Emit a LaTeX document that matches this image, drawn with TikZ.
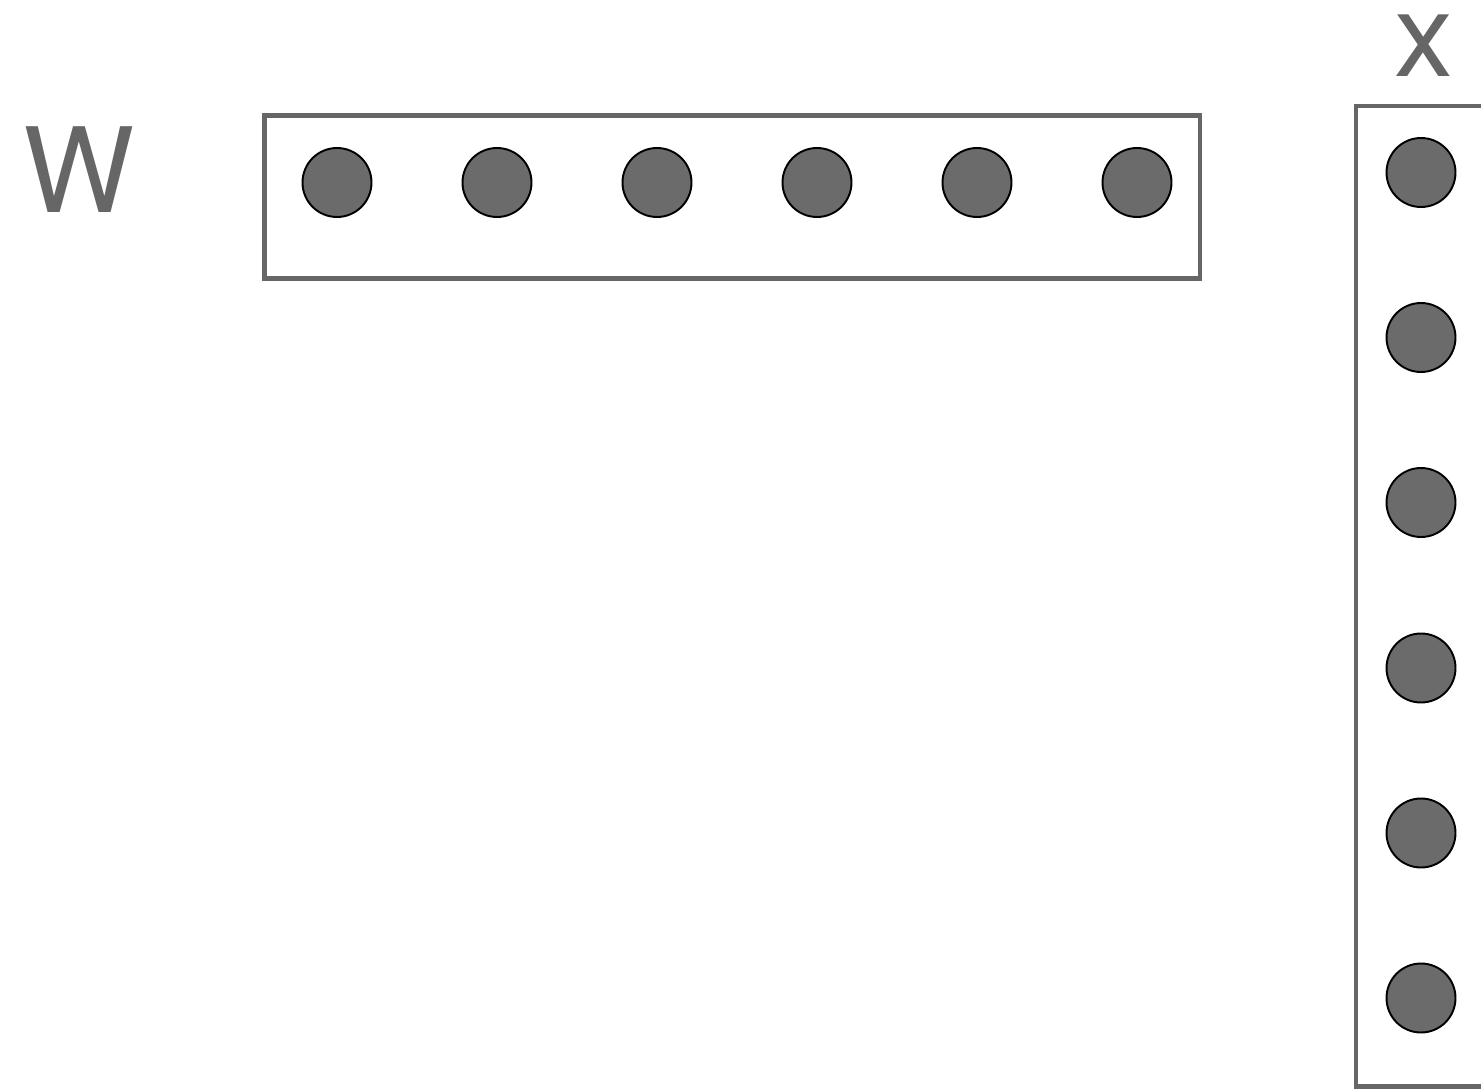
\documentclass[tikz,border=0pt]{standalone}
\usepackage{fontspec}
\setmainfont{TeX Gyre Heros}
\usepackage{xcolor}
\usepackage{tikz}
\definecolor{boxgray}{HTML}{666666}
\definecolor{dotgray}{HTML}{6B6B6B}

\begin{document}
\begin{tikzpicture}[x=0.02cm,y=-0.02cm,
  unit/.style={circle,draw=black,line width=1.1pt,fill=dotgray,
    minimum size=1.38cm,inner sep=0pt},
  frame/.style={draw=boxgray,line width=2.8pt},
  lbl/.style={text=boxgray,inner sep=0pt,anchor=base west,
    font=\fontsize{67}{67}\selectfont}]
\useasboundingbox (0,0)rectangle(1481,1091);

% row vector
\node[lbl] (wlab) at (23,213) {W};
\draw[frame] (264.5,115.5)rectangle(1200,278.5);
\node[unit] (w1) at (337,182.5) {};
\node[unit] (w2) at (497,182.5) {};
\node[unit] (w3) at (657,182.5) {};
\node[unit] (w4) at (817,182.5) {};
\node[unit] (w5) at (977,182.5) {};
\node[unit] (w6) at (1137,182.5) {};

% column vector
\node[lbl] (xlab) at (1394,77) {x};
\draw[frame] (1489,106)--(1356,106)--(1356,1086.5)--(1489,1086.5);
\node[unit] (x1) at (1421,172.5) {};
\node[unit] (x2) at (1421,337.5) {};
\node[unit] (x3) at (1421,502.5) {};
\node[unit] (x4) at (1421,668) {};
\node[unit] (x5) at (1421,833) {};
\node[unit] (x6) at (1421,998) {};
\end{tikzpicture}
\end{document}
